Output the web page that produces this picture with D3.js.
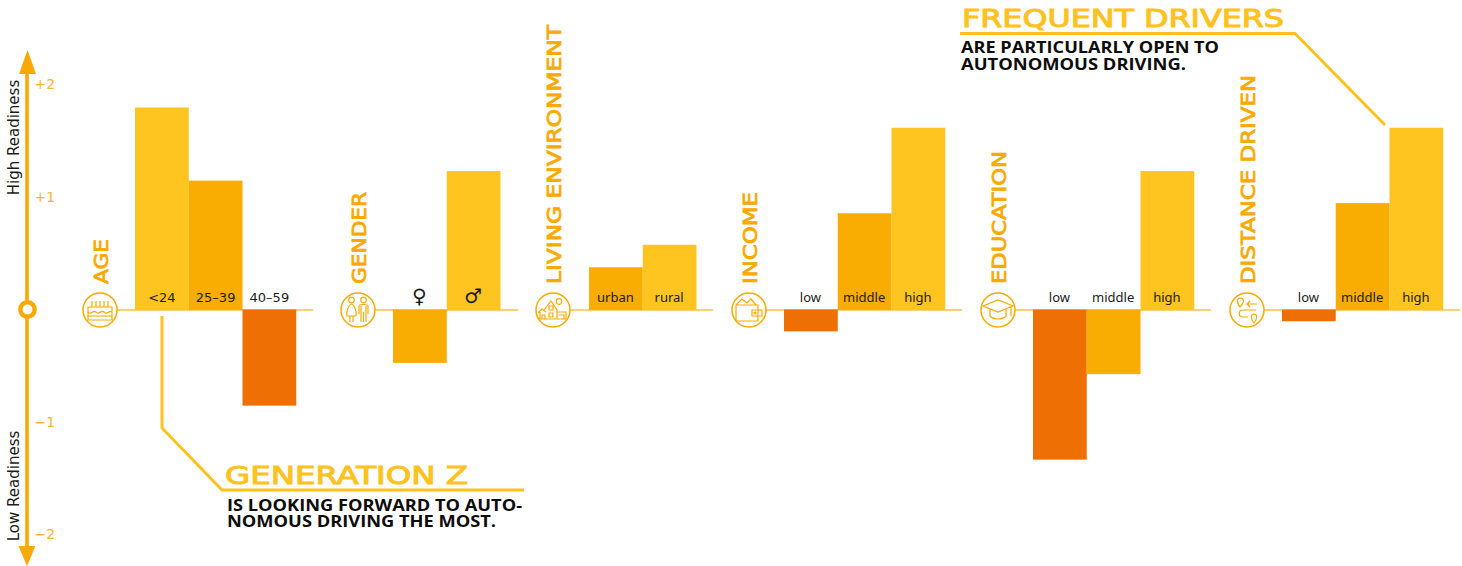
<!DOCTYPE html>
<html><head><meta charset="utf-8">
<script src="https://cdnjs.cloudflare.com/ajax/libs/d3/7.8.5/d3.min.js"></script>
<style>html,body{margin:0;padding:0;background:#fff}svg{display:block}</style>
</head><body><div id="chart"></div>
<script>
const groupNames = ["AGE","GENDER","LIVING ENVIRONMENT","INCOME","EDUCATION","DISTANCE DRIVEN"];
const ageCategories = ["<24","25–39","40–59"];
const ageValues = [1.80,1.15,-0.85];
const genderCategories = ["♀","♂"];
const genderValues = [-0.47,1.235];
const livingCategories = ["urban","rural"];
const livingValues = [0.38,0.58];
const incomeCategories = ["low","middle","high"];
const incomeValues = [-0.19,0.86,1.62];
const educationCategories = ["low","middle","high"];
const educationValues = [-1.33,-0.57,1.235];
const distanceCategories = ["low","middle","high"];
const distanceValues = [-0.10,0.95,1.62];
const axisTicks = [2,1,-1,-2];
const levelOfCategory = {"<24":2,"25–39":1,"40–59":0,"♀":1,"♂":2,urban:1,rural:2,low:0,middle:1,high:2};

// layout
const W=1462,H=566;
const palette=["#EE6F04","#F9AC02","#FEC41F"];
const accent="#F9A901", callout="#FEC220", tickCol="#FBB432", baseCol="#FBBF4B";
const catLists=[ageCategories,genderCategories,livingCategories,incomeCategories,educationCategories,distanceCategories];
const valLists=[ageValues,genderValues,livingValues,incomeValues,educationValues,distanceValues];
const layout=[
 {bar:135,icon:100,lineEnd:313,titleLen:45},
 {bar:393,icon:358,lineEnd:518,titleLen:92},
 {bar:589,icon:553,lineEnd:713,titleLen:259},
 {bar:784,icon:749,lineEnd:962,titleLen:92},
 {bar:1033,icon:998,lineEnd:1211,titleLen:133},
 {bar:1282,icon:1247,lineEnd:1460,titleLen:209}];
const step=53.75;
const y=d3.scaleLinear().domain([-2,2]).range([535,85]);
const svg=d3.select("#chart").append("svg").attr("width",W).attr("height",H);

// vertical axis
const ax=svg.append("g");
ax.append("line").attr("x1",27).attr("x2",27).attr("y1",68).attr("y2",550).attr("stroke",accent).attr("stroke-width",3.6);
ax.append("path").attr("d","M27.5,50L36,74L19,74Z").attr("fill",accent);
ax.append("path").attr("d","M27,566L35.5,546L18.5,546Z").attr("fill",accent);
ax.append("circle").attr("cx",27.5).attr("cy",309.5).attr("r",7.2).attr("fill","#fff").attr("stroke",accent).attr("stroke-width",4.4);
const tickAxis=d3.axisRight(y).tickValues(axisTicks).tickSize(0).tickPadding(0)
  .tickFormat(d=>(d>0?"+":"−")+Math.abs(d));
const tg=svg.append("g").attr("transform","translate(34.5,-0.5)").call(tickAxis);
tg.select(".domain").remove();
tg.selectAll("text").attr("fill",tickCol).attr("font-family","DejaVu Sans").attr("font-size",14);
[["High Readiness",137.5],["Low Readiness",486]].forEach(([t,cy])=>{
  svg.append("text").text(t).attr("transform",`translate(19,${cy}) rotate(-90)`).attr("text-anchor","middle")
   .attr("font-family","DejaVu Sans").attr("font-size",15).attr("fill","#1a1a1a");
});

// icons
const icons=[
 g=>{ // cake
  g.append("path").attr("d","M-12,-3H12V10H-12ZM-12,2C-9,6 -7,-1 -4,2C-1,6 1,-1 4,2C7,6 9,-1 12,2M-12,6H12M-8,-3V-9M-4,-3V-9M0,-3V-9M4,-3V-9M8,-3V-9");
 },
 g=>{ // couple
  g.append("circle").attr("cx",-6.5).attr("cy",-10).attr("r",2.8);
  g.append("circle").attr("cx",5.5).attr("cy",-10).attr("r",2.8);
  g.append("path").attr("d","M-6.5,-6C-10,-5 -12,3 -11,6H-2C-1,3 -3,-5 -6.5,-6ZM-8,6V12M-5,6V12M1,4V-4C1,-6 10,-6 10,-4V4M3,-4V12M8,-4V12M5.5,2V12");
 },
 g=>{ // houses
  g.append("circle").attr("cx",6).attr("cy",-8.5).attr("r",2.8);
  g.append("path").attr("d","M-15,3L-11,-1L-7,2M-9,0L-2,-9L4,0V9M-13,2V9M-15,9H13M4,2H13V9M6,5H11V9M-4,-4H0V0H-4ZM-4,3H0V7H-4ZM-11,5H-8V9H-11Z");
 },
 g=>{ // wallet
  g.append("path").attr("d","M-13,-5H9V11H-13ZM-13,-5L-7,-11L-2,-7L2,-11L7,-5M3,0H13V6H3ZM-13,-5V-2");
  g.append("circle").attr("cx",6).attr("cy",3).attr("r",1);
 },
 g=>{ // mortarboard
  g.append("path").attr("d","M-15,-4L0,-10L15,-4L0,2ZM-8,-1V6C-4,10 4,10 8,6V-1M13,-3V6");
 },
 g=>{ // route
  g.append("path").attr("d","M-7,-3C-11,-8 -10,-12 -6.5,-12C-3,-12 -2,-8 -7,-3ZM7,13C3,8 4,4 7,4C10,4 11,8 7,13ZM10,-6H0L3,-9M0,-6L3,-3M9,0H-4C-9,0 -9,7 -4,7H1");
 }];

groupNames.forEach((name,i)=>{
  const L=layout[i],cats=catLists[i],vals=valLists[i];
  const x=d3.scaleBand().domain(cats).range([L.bar,L.bar+cats.length*step]);
  const g=svg.append("g");
  g.append("line").attr("x1",L.icon+17).attr("x2",L.lineEnd).attr("y1",310).attr("y2",310)
    .attr("stroke",baseCol).attr("stroke-width",1.6);
  g.selectAll("rect").data(cats).join("rect")
    .attr("x",d=>x(d)).attr("width",x.bandwidth())
    .attr("y",(d,j)=>vals[j]>=0?y(vals[j]):y(0)-0.5)
    .attr("height",(d,j)=>Math.abs(y(vals[j])-y(0))+(vals[j]>=0?0:0.5))
    .attr("fill",d=>palette[levelOfCategory[d]]);
  g.selectAll("text.cat").data(cats).join("text").attr("class","cat")
    .attr("x",d=>x(d)+x.bandwidth()/2-(i===0?0:0.5)).attr("y",d=>(i===1?303:302))
    .attr("text-anchor","middle").text(d=>d)
    .attr("font-family",i===0||i===1?"DejaVu Sans":"Noto Sans")
    .attr("font-weight",i===1?"bold":"normal")
    .attr("font-size",i===1?20:13)
    .attr("fill","#1c1c1c");
  const ic=g.append("g").attr("transform",`translate(${L.icon},310)`);
  ic.append("circle").attr("r",17).attr("fill","#fff").attr("stroke",accent).attr("stroke-width",1.5);
  const ig=ic.append("g").attr("fill","none").attr("stroke",accent).attr("stroke-width",1.2);
  icons[i](ig);
  g.append("text").text(name).attr("transform",`translate(${L.icon+7.5},284) rotate(-90)`)
    .attr("font-family","DejaVu Sans").attr("font-size",19.5).attr("fill",accent)
    .attr("stroke",accent).attr("stroke-width",0.8)
    .attr("textLength",L.titleLen).attr("lengthAdjust","spacingAndGlyphs");
});

// callouts
const co=svg.append("g");
const lineGen=d3.line();
co.append("path").attr("d",lineGen([[162,316],[162,428],[222,490],[524,490]])).attr("fill","none").attr("stroke",callout).attr("stroke-width",3);
co.append("path").attr("d",lineGen([[960,33.5],[1295,33.5],[1385,125]])).attr("fill","none").attr("stroke",callout).attr("stroke-width",3);
function head(t,xp,yp,len){co.append("text").text(t).attr("x",xp).attr("y",yp).attr("font-family","DejaVu Sans").attr("font-size",25).attr("fill",callout)
  .attr("stroke",callout).attr("stroke-width",1)
  .attr("textLength",len).attr("lengthAdjust","spacingAndGlyphs");}
function sub(lines,xp){
  const t=co.append("text").attr("font-family","Open Sans").attr("font-weight",700).attr("font-size",16).attr("fill","#0c0c0c");
  lines.forEach(([s,yp,len])=>t.append("tspan").text(s).attr("x",xp).attr("y",yp).attr("textLength",len).attr("lengthAdjust","spacingAndGlyphs"));
}
head("GENERATION Z",225,484,243);
sub([["IS LOOKING FORWARD TO AUTO-",511,295],["NOMOUS DRIVING THE MOST.",527,269]],227);
head("FREQUENT DRIVERS",962,27,322);
sub([["ARE PARTICULARLY OPEN TO",53,258],["AUTONOMOUS DRIVING.",70,225]],961);
</script></body></html>
